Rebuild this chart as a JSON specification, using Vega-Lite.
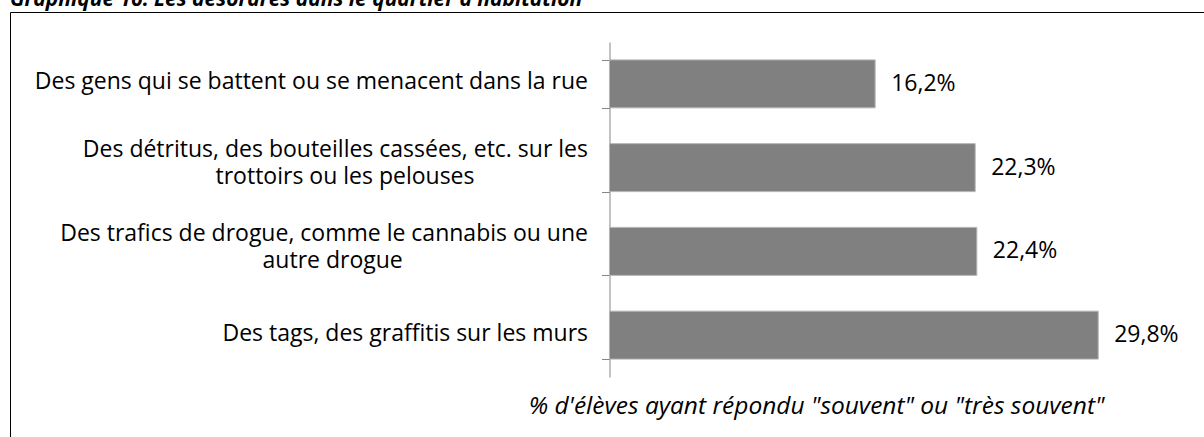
{
  "$schema": "https://vega.github.io/schema/vega-lite/v6.json",
  "width": 1204,
  "height": 435,
  "autosize": {"type": "none"},
  "padding": {"left": 10, "top": 12, "right": -10, "bottom": -10},
  "title": {
    "text": "Graphique 16: Les désordres dans le quartier d'habitation",
    "anchor": "start",
    "font": "Open Sans",
    "fontSize": 21,
    "fontWeight": "bold",
    "fontStyle": "italic",
    "color": "#000000",
    "offset": -9
  },
  "config": {
    "view": {"stroke": "#000000", "strokeWidth": 1},
    "locale": {"number": {"decimal": ",", "thousands": " ", "grouping": [3], "currency": ["", " €"], "percent": "%"}}
  },
  "data": {
    "values": [
      {"item": "Des gens qui se battent ou se menacent dans la rue", "share": 0.162},
      {"item": "Des détritus, des bouteilles cassées, etc. sur les\ntrottoirs ou les pelouses", "share": 0.223},
      {"item": "Des trafics de drogue, comme le cannabis ou une\nautre drogue", "share": 0.224},
      {"item": "Des tags, des graffitis sur les murs", "share": 0.298}
    ]
  },
  "encoding": {
    "y": {
      "field": "item",
      "type": "nominal",
      "sort": null,
      "scale": {"range": [30, 365], "paddingInner": 0.427, "paddingOuter": 0.2135},
      "axis": {
        "title": null,
        "orient": "left",
        "offset": -599.5,
        "domainColor": "#868686",
        "tickColor": "#868686",
        "tickSize": 8,
        "tickBand": "extent",
        "labelFont": "Open Sans",
        "labelFontSize": 23,
        "labelColor": "#000000",
        "labelAlign": "right",
        "labelBaseline": "middle",
        "labelLineHeight": 27,
        "labelPadding": 14,
        "labelLimit": 0,
        "labelOffset": {"condition": {"test": "indexof(datum.value + '', '\\n') >= 0", "value": -18}, "value": -2},
        "labelExpr": "datum.value == null ? '' : length(split(datum.value, '\\n')) > 1 ? [split(datum.value, '\\n')[0], split(datum.value, '\\n')[1] + pad('', round((length(split(datum.value, '\\n')[0]) - length(split(datum.value, '\\n')[1])) * 1.15 - 9.25), '\u00a0') + '\u200b'] : datum.value"
      }
    },
    "x": {
      "field": "share",
      "type": "quantitative",
      "scale": {"domain": [-0.3655, 0.3686], "nice": false},
      "axis": {
        "title": "% d'élèves ayant répondu \"souvent\" ou \"très souvent\"",
        "labels": false,
        "ticks": false,
        "domain": false,
        "grid": false,
        "titleFont": "Open Sans",
        "titleFontSize": 24.5,
        "titleFontStyle": "italic",
        "titleFontWeight": "normal",
        "titleColor": "#000000",
        "titleX": 806,
        "titleY": -34,
        "titleAlign": "center",
        "titleBaseline": "alphabetic"
      }
    }
  },
  "layer": [
    {"mark": {"type": "bar", "color": "#808080", "stroke": "#b5b5b5", "strokeWidth": 1}},
    {
      "mark": {"type": "text", "align": "left", "dx": 16, "baseline": "middle", "font": "Open Sans", "fontSize": 23, "color": "#000000"},
      "encoding": {"text": {"field": "share", "type": "quantitative", "format": ".1%"}}
    }
  ]
}
